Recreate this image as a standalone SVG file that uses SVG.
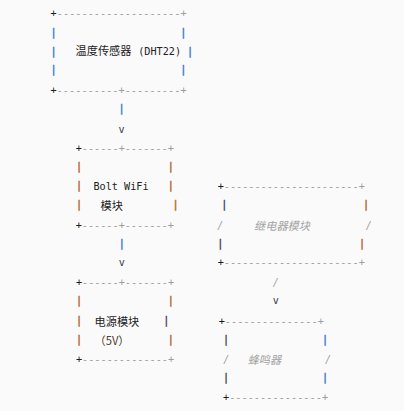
<svg xmlns="http://www.w3.org/2000/svg" width="404" height="411" viewBox="0 0 404 411">
<style>
.m{font-family:"DejaVu Sans Mono","Liberation Mono",monospace;font-size:10.2px}
.a{text-anchor:middle}
.c{font-family:"Noto Sans CJK SC","Noto Sans",sans-serif;font-size:11.2px;fill:#222}
.t{fill:#222}
.k{fill:#1a1a1a}
.g{fill:#9d9d9d}
.i{font-style:italic;fill:#a3a3a3}
.bl{fill:#3a7fcc;stroke:#3a7fcc;stroke-width:0.45}
.or{fill:#b06a2a;stroke:#b06a2a;stroke-width:0.45}
.pu{fill:#4b2d5e;stroke:#4b2d5e;stroke-width:0.3}
.nv{fill:#2e3a6e;stroke:#2e3a6e;stroke-width:0.3}
.dk{fill:#3a3248;stroke:#3a3248;stroke-width:0.3}
.v{fill:#3a3a4a}
.br{fill:#4d3b2a}
</style>
<rect width="404" height="411" fill="#fafafa"/>

<g id="sensor">
<text class="m a k" x="53.6" y="16.8">+</text>
<text class="m a g" x="59.8 66 72.2 78.3 84.5 90.7 96.9 103.1 109.3 115.5 121.7 127.8 134 140.2 146.4 152.6 158.8 165 171.1 177.3" y="16.8">--------------------</text>
<text class="m a g" x="183.5" y="16.8">+</text>
<text class="m a bl" x="53.6" y="35.7">|</text>
<text class="m a bl" x="183.3" y="35.7">|</text>
<text class="m a bl" x="53.6" y="54.9">|</text>
<text class="c" x="75.5" y="54.7">温度传感器 <tspan class="m t" x="138.2">(DHT22)</tspan></text>
<text class="m a bl" x="190" y="54.9">|</text>
<text class="m a bl" x="53.6" y="73.2">|</text>
<text class="m a bl" x="183.3" y="73.2">|</text>
<text class="m a k" x="53.6" y="94.2">+</text>
<text class="m a g" x="59.8 65.9 72.1 78.3 84.5 90.6 96.8 103 109.2 115.3" y="94.2">----------</text>
<text class="m a g" x="121.5" y="94.2">+</text>
<text class="m a g" x="127.7 133.9 140.1 146.3 152.5 158.7 164.9 171.1 177.3" y="94.2">---------</text>
<text class="m a g" x="183.5" y="94.2">+</text>
</g>

<g id="bolt">
<text class="m a k" x="78.7" y="152">+</text>
<text class="m a g" x="84.8 91 97.1 103.3 109.4 115.6" y="152">------</text>
<text class="m a g" x="121.7" y="152">+</text>
<text class="m a g" x="127.8 133.9 140.1 146.2 152.3 158.5 164.6" y="152">-------</text>
<text class="m a g" x="170.7" y="152">+</text>
<text class="m a or" x="79" y="169.7">|</text>
<text class="m a or" x="170.7" y="169.7">|</text>
<text class="m a or" x="79" y="189.4">|</text>
<text class="m t" x="93.4" y="190">Bolt WiFi</text>
<text class="m a or" x="170.7" y="189.4">|</text>
<text class="m a or" x="79" y="208.2">|</text>
<text class="c" x="100.5" y="209.7">模块</text>
<text class="m a or" x="175.5" y="208.2">|</text>
<text class="m a k" x="78.7" y="228.5">+</text>
<text class="m a g" x="84.8 91 97.1 103.3 109.4 115.6" y="228.5">------</text>
<text class="m a g" x="121.7" y="228.5">+</text>
<text class="m a g" x="127.8 133.9 140.1 146.2 152.3 158.5 164.6" y="228.5">-------</text>
<text class="m a g" x="170.7" y="228.5">+</text>
</g>

<g id="power">
<text class="m a k" x="79" y="286.2">+</text>
<text class="m a g" x="85.1 91.2 97.3 103.4 109.5 115.6" y="286.2">------</text>
<text class="m a g" x="121.7" y="286.2">+</text>
<text class="m a g" x="127.9 134 140.2 146.4 152.5 158.7 164.8" y="286.2">-------</text>
<text class="m a g" x="171" y="286.2">+</text>
<text class="m a or" x="79" y="303.7">|</text>
<text class="m a or" x="170.7" y="303.7">|</text>
<text class="m a or" x="79" y="324.4">|</text>
<text class="c" x="94.5" y="325.5">电源模块</text>
<text class="m a pu" x="166.3" y="324.4">|</text>
<text class="m a or" x="79" y="343.2">|</text>
<text class="c br" x="94.5" y="345">（5V）</text>
<text class="m a or" x="170.7" y="343.2">|</text>
<text class="m a k" x="79" y="362.8">+</text>
<text class="m a g" x="85.1 91.3 97.4 103.5 109.7 115.8 121.9 128.1 134.2 140.3 146.5 152.6 158.7 164.9" y="362.8">--------------</text>
<text class="m a g" x="171" y="362.8">+</text>
</g>

<g id="relay">
<text class="m a k" x="220.7" y="189.5">+</text>
<text class="m a g" x="226.8 233 239.1 245.2 251.4 257.5 263.6 269.7 275.9 282 288.1 294.3 300.4 306.5 312.7 318.8 324.9 331 337.2 343.3 349.4 355.6" y="189.5">----------------------</text>
<text class="m a g" x="361.7" y="189.5">+</text>
<text class="m a nv" x="224.2" y="208">|</text>
<text class="m a or" x="366" y="208">|</text>
<text class="m a i" x="220.3" y="228.6">/</text>
<text class="c i" x="254" y="229.5">继电器模块</text>
<text class="m a i" x="368.7" y="228.6">/</text>
<text class="m a dk" x="220.2" y="247.2">|</text>
<text class="m a or" x="362" y="247.2">|</text>
<text class="m a k" x="220.7" y="266.2">+</text>
<text class="m a g" x="226.8 233 239.1 245.2 251.4 257.5 263.6 269.7 275.9 282 288.1 294.3 300.4 306.5 312.7 318.8 324.9 331 337.2 343.3 349.4 355.6" y="266.2">----------------------</text>
<text class="m a g" x="361.7" y="266.2">+</text>
</g>

<g id="buzzer">
<text class="m a k" x="221.7" y="324.5">+</text>
<text class="m a g" x="227.9 234.1 240.3 246.5 252.6 258.8 265 271.2 277.4 283.6 289.8 296 302.1 308.3 314.5" y="324.5">---------------</text>
<text class="m a g" x="320.7" y="324.5">+</text>
<text class="m a dk" x="226" y="343">|</text>
<text class="m a bl" x="325" y="343">|</text>
<text class="m a i" x="226.3" y="362.6">/</text>
<text class="c i" x="247.5" y="363.5">蜂鸣器</text>
<text class="m a i" x="328" y="362.6">/</text>
<text class="m a dk" x="226" y="381">|</text>
<text class="m a bl" x="325" y="381">|</text>
<text class="m a k" x="226" y="401.2">+</text>
<text class="m a g" x="232.2 238.4 244.6 250.8 256.9 263.1 269.3 275.5 281.7 287.9 294.1 300.3 306.4 312.6 318.8" y="401.2">---------------</text>
<text class="m a g" x="325" y="401.2">+</text>
</g>

<g id="connectors">
<text class="m a bl" x="121.5" y="111.7">|</text>
<text class="m a v" x="121.5" y="132.8">v</text>
<text class="m a bl" x="121.7" y="246.9">|</text>
<text class="m a v" x="121.7" y="265.6">v</text>
<text class="m a i" x="275.7" y="285.8">/</text>
<text class="m a v" x="275.8" y="304.1">v</text>
</g>
</svg>
